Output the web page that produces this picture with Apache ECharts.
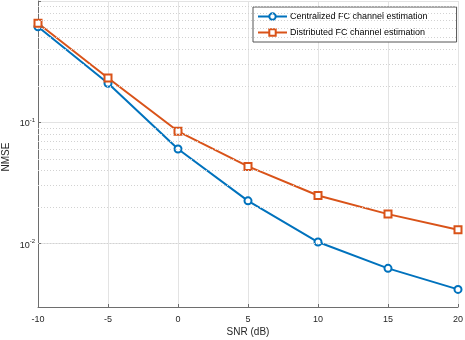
<!DOCTYPE html>
<html>
<head>
<meta charset="utf-8">
<script src="https://cdn.jsdelivr.net/npm/echarts@6/dist/echarts.min.js"></script>
<style>html,body{margin:0;padding:0;background:#fff}#c{width:465px;height:340px}</style>
</head>
<body>
<div id="c"></div>
<script>
const snr = [-10, -5, 0, 5, 10, 15, 20];
const centralized = [0.613, 0.210, 0.0602, 0.0225, 0.0103, 0.00625, 0.00419];
const distributed = [0.655, 0.232, 0.0843, 0.0433, 0.0249, 0.0175, 0.0130];
const seriesNames = ['Centralized FC channel estimation', 'Distributed FC channel estimation'];
const minorGridValues = [0.004, 0.005, 0.006, 0.007, 0.008, 0.009,
  0.02, 0.03, 0.04, 0.05, 0.06, 0.07, 0.08, 0.09,
  0.2, 0.3, 0.4, 0.5, 0.6, 0.7, 0.8, 0.9];
const xLabel = 'SNR (dB)';
const yLabel = 'NMSE';

const font = "'Liberation Sans', Arial, Helvetica, sans-serif";
const txt = '#262626';
const chart = echarts.init(document.getElementById('c'), null, {renderer: 'canvas'});
chart.setOption({
  animation: false,
  backgroundColor: '#fff',
  textStyle: {fontFamily: font},
  grid: {left: 38, right: 7, top: 1, bottom: 33, containLabel: false, outerBoundsMode: 'none'},
  legend: {
    data: seriesNames,
    orient: 'vertical',
    left: 253, top: 7,
    padding: [5, 29, 5, 4],
    itemWidth: 29, itemHeight: 8, itemGap: 7,
    borderColor: '#555', borderWidth: 1, backgroundColor: '#fff',
    textStyle: {fontSize: 9, color: '#000', fontFamily: font, lineHeight: 9, padding: [0,0,0,-2]},
    selectedMode: false
  },
  xAxis: {
    type: 'value', min: -10, max: 20, interval: 5,
    name: xLabel, nameLocation: 'middle', nameGap: 20, nameMoveOverlap: false,
    nameTextStyle: {fontSize: 10, color: txt, fontFamily: font},
    axisLine: {show: true, onZero: false, lineStyle: {color: '#6e6e6e', width: 1}},
    axisTick: {show: true, inside: true, length: 3, lineStyle: {color: '#6e6e6e'}},
    axisLabel: {fontSize: 9, color: txt, margin: 8, fontFamily: font},
    splitLine: {show: true, lineStyle: {color: '#e3e3e3', width: 1}}
  },
  yAxis: {
    type: 'log', logBase: 10, min: 0.003, max: 1,
    name: yLabel, nameLocation: 'middle', nameGap: 27, nameMoveOverlap: false,
    nameTextStyle: {fontSize: 10, color: txt, fontFamily: font, padding: [0, 6, 0, 0]},
    axisLine: {show: true, onZero: false, lineStyle: {color: '#6e6e6e', width: 1}},
    axisTick: {show: true, inside: true, length: 3, lineStyle: {color: '#6e6e6e'}},
    axisLabel: {
      margin: 3, color: txt, fontFamily: font,
      formatter: function (v) {
        const e = Math.log10(v);
        const r = Math.round(e);
        if (Math.abs(e - r) > 1e-6 || r >= 0) return '';
        return '{b|10}{s|' + r + '}';
      },
      rich: {
        b: {fontSize: 9, color: txt, fontFamily: font, padding: [3, 0, 0, 0]},
        s: {fontSize: 6, color: txt, fontFamily: font, padding: [0, 0, 4, 0]}
      }
    },
    splitLine: {show: true, lineStyle: {color: '#e3e3e3', width: 1}}
  },
  series: [
    {
      name: 'minorGrid', type: 'line', data: [], silent: true, z: 1,
      markLine: {
        silent: true, symbol: 'none', animation: false,
        label: {show: false},
        lineStyle: {color: '#d2d2d2', type: [1, 2], width: 1},
        data: minorGridValues.map(v => ({yAxis: v}))
      }
    },
    {
      name: seriesNames[0], type: 'line', z: 3,
      data: snr.map((x, i) => [x, centralized[i]]),
      symbol: 'emptyCircle', symbolSize: 7,
      lineStyle: {color: '#0072BD', width: 2},
      itemStyle: {color: '#0072BD', borderWidth: 1.8}
    },
    {
      name: seriesNames[1], type: 'line', z: 3,
      data: snr.map((x, i) => [x, distributed[i]]),
      symbol: 'emptyRect', symbolSize: 7,
      lineStyle: {color: '#D95319', width: 2},
      itemStyle: {color: '#D95319', borderWidth: 1.8}
    }
  ]
});
</script>
</body>
</html>
